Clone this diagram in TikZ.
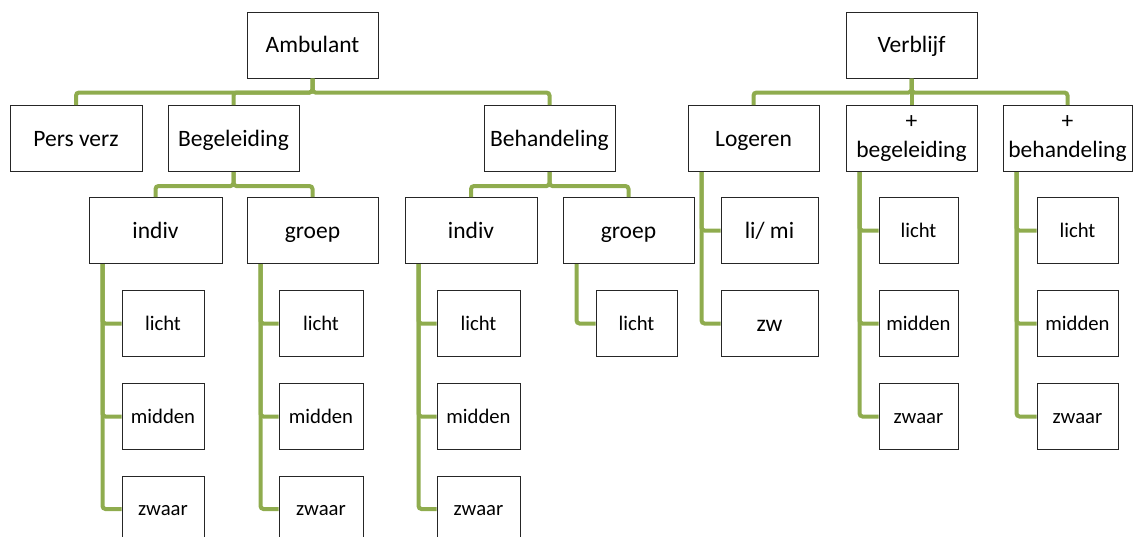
\documentclass[tikz,border=0pt]{standalone}
\usepackage{fontspec}
\setmainfont{Carlito}
\usepackage{tikz}
\definecolor{branch}{RGB}{143,172,78}

\begin{document}
\begin{tikzpicture}[x=1pt,y=-1pt]
  \tikzset{box/.style = {shape=rectangle,draw=black!85,line width=1pt,fill=white,minimum width=131pt,minimum height=66pt,inner sep=1pt,align=center,text height=20pt,text depth=5pt,font=\fontsize{23.5}{29}\selectfont}}
  \tikzset{leaf/.style = {box,text height=17.5pt,text depth=4.5pt,font=\fontsize{20.7}{25}\selectfont}}
  \tikzset{twoline/.style = {box,text height=,text depth=}}
  \tikzset{conn/.style = {draw=branch,line width=4pt,rounded corners=3pt}}

  \useasboundingbox (0,0) rectangle (1133,536);
  \clip (0,0) rectangle (1133,536);

	\node[box] (amb) at (312.5,45) {Ambulant};
	\node[box] (verb) at (911.5,45) {Verblijf};

	\node[box,minimum width=132pt] (pers) at (76,138.5) {Pers verz};
	\node[box] (beg) at (233.5,138.5) {Begeleiding};
	\node[box] (beh) at (549.5,138.5) {Behandeling};
	\node[box] (log) at (753.5,138.5) {Logeren};
	\node[twoline] (pbeg) at (911.5,138.5) {+\\begeleiding};
	\node[twoline,minimum width=129pt] (pbeh) at (1067.5,138.5) {+\\behandeling};

	\node[box,minimum width=133pt] (ai) at (155.5,230.5) {indiv};
	\node[box] (ag) at (312.5,230.5) {groep};
	\node[box,minimum width=132pt] (bi) at (471,230.5) {indiv};
	\node[box] (bg) at (628.5,230.5) {groep};
	\node[box,minimum width=97pt] (lli) at (769.5,230.5) {li/ mi};
	\node[box,minimum width=97pt] (lzw) at (769.5,323.5) {zw};

	\node[leaf,minimum width=82pt] (ail) at (163,323.5) {licht};
	\node[leaf,minimum width=82pt] (aim) at (163,416.5) {midden};
	\node[leaf,minimum width=82pt] (aiz) at (163,509) {zwaar};
	\node[leaf,minimum width=84pt] (agl) at (321,323.5) {licht};
	\node[leaf,minimum width=84pt] (agm) at (321,416.5) {midden};
	\node[leaf,minimum width=84pt] (agz) at (321,509) {zwaar};
	\node[leaf,minimum width=83pt] (bil) at (478.5,323.5) {licht};
	\node[leaf,minimum width=83pt] (bim) at (478.5,416.5) {midden};
	\node[leaf,minimum width=83pt] (biz) at (478.5,509) {zwaar};
	\node[leaf,minimum width=81pt] (bgl) at (636.5,323.5) {licht};

	\node[leaf,minimum width=79pt] (pgl) at (918.5,230.5) {licht};
	\node[leaf,minimum width=79pt] (pgm) at (918.5,323.5) {midden};
	\node[leaf,minimum width=79pt] (pgz) at (918.5,416.5) {zwaar};
	\node[leaf,minimum width=81pt] (phl) at (1077.5,230.5) {licht};
	\node[leaf,minimum width=81pt] (phm) at (1077.5,323.5) {midden};
	\node[leaf,minimum width=81pt] (phz) at (1077.5,416.5) {zwaar};

       \foreach \from/\to in {amb/pers, amb/beg, amb/beh, beg/ai, beg/ag, beh/bi, beh/bg, verb/log, verb/pbeg, verb/pbeh}
    \draw[conn] (\from.south) -- ++(0,14) -| (\to.north);
       \foreach \from/\to in {ai/ail, ai/aim, ai/aiz, ag/agl, ag/agm, ag/agz, bi/bil, bi/bim, bi/biz, bg/bgl, log/lli, log/lzw, pbeg/pgl, pbeg/pgm, pbeg/pgz, pbeh/phl, pbeh/phm, pbeh/phz}
    \draw[conn] ([xshift=14pt]\from.south west) |- (\to.west);
\end{tikzpicture}
\end{document}
